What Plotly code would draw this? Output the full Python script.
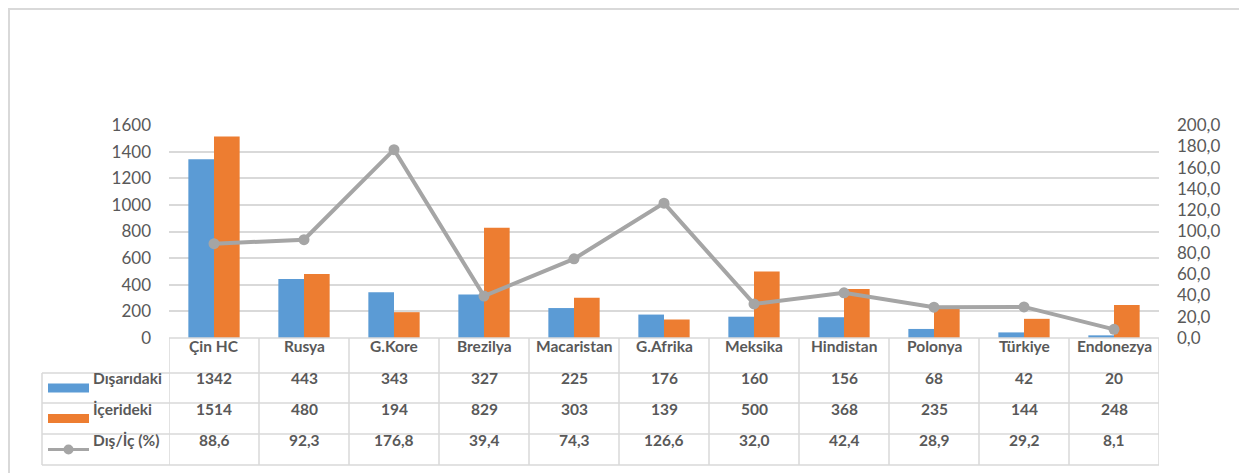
import plotly.graph_objects as go

categories = ["Çin HC", "Rusya", "G.Kore", "Brezilya", "Macaristan", "G.Afrika",
              "Meksika", "Hindistan", "Polonya", "Türkiye", "Endonezya"]
disaridaki = [1342, 443, 343, 327, 225, 176, 160, 156, 68, 42, 20]
icerideki = [1514, 480, 194, 829, 303, 139, 500, 368, 235, 144, 248]
oran = [88.6, 92.3, 176.8, 39.4, 74.3, 126.6, 32.0, 42.4, 28.9, 29.2, 8.1]
series_names = ["Dışarıdaki", "İçerideki", "Dış/İç (%)"]
left_ticks = [0, 200, 400, 600, 800, 1000, 1200, 1400, 1600]
right_ticks = [0, 20, 40, 60, 80, 100, 120, 140, 160, 180, 200]

BLUE = "#5B9BD5"
ORANGE = "#ED7D31"
GRAY = "#A5A5A5"
TXT = "#595959"
GRID = "#D9D9D9"
FONT = "Lato"

OFF = 8               # page body margin
W, H = 1247 - OFF, 473 - OFF
L, R = 169, 1159      # plot area pixel x (screen coordinates)
T, B = 125, 338       # plot area pixel y (screen coordinates)


def px(x):
    return (x - L) / (R - L)


def py(y):
    return (B - y) / (B - T)


fig = go.Figure()
fig.add_trace(go.Bar(x=categories, y=disaridaki, name=series_names[0],
                     marker=dict(color=BLUE, line=dict(width=0))))
fig.add_trace(go.Bar(x=categories, y=icerideki, name=series_names[1],
                     marker=dict(color=ORANGE, line=dict(width=0))))
fig.add_trace(go.Scatter(x=categories, y=oran, name=series_names[2], yaxis="y2",
                         mode="lines+markers",
                         line=dict(color=GRAY, width=4),
                         marker=dict(color=GRAY, size=11)))

shapes = []
annotations = []
n = len(categories)

# outer chart border
shapes.append(dict(type="rect", xref="paper", yref="paper",
                   x0=px(9), x1=px(1244), y0=py(480), y1=py(9),
                   line=dict(color=GRID, width=2), layer="below"))

# table geometry
row_y = [338, 373, 403, 434, 465]
tbl_left = 42
shapes.append(dict(type="line", xref="paper", yref="paper",
                   x0=px(L), x1=px(R), y0=py(row_y[0]), y1=py(row_y[0]),
                   line=dict(color=GRID, width=1.5)))
for yy in row_y[1:]:
    shapes.append(dict(type="line", xref="paper", yref="paper",
                       x0=px(tbl_left), x1=px(R), y0=py(yy), y1=py(yy),
                       line=dict(color=GRID, width=1.5)))
shapes.append(dict(type="line", xref="paper", yref="paper",
                   x0=px(tbl_left), x1=px(tbl_left), y0=py(row_y[1]), y1=py(row_y[4]),
                   line=dict(color=GRID, width=1.5)))
for i in range(n + 1):
    xx = i - 0.5
    shapes.append(dict(type="line", xref="x", yref="paper",
                       x0=xx, x1=xx, y0=py(row_y[0]), y1=py(row_y[4]),
                       line=dict(color=GRID, width=1.5)))

centers = [(row_y[k] + row_y[k + 1]) / 2 + 1 for k in range(4)]
TS = 15.5

for i, c in enumerate(categories):
    annotations.append(dict(x=i, y=py(centers[0]), xref="x", yref="paper",
                            text=f"<b>{c}</b>", showarrow=False,
                            font=dict(family=FONT, size=TS, color=TXT)))


def fmt(v):
    return f"{v:.1f}".replace(".", ",")


rows = [[str(v) for v in disaridaki], [str(v) for v in icerideki], [fmt(v) for v in oran]]
for k, vals in enumerate(rows):
    for i, v in enumerate(vals):
        annotations.append(dict(x=i, y=py(centers[k + 1]), xref="x", yref="paper",
                                text=f"<b>{v}</b>", showarrow=False,
                                font=dict(family=FONT, size=TS, color=TXT)))
    annotations.append(dict(x=px(91), y=py(centers[k + 1]), xref="paper", yref="paper",
                            xanchor="left", text=f"<b>{series_names[k]}</b>",
                            showarrow=False,
                            font=dict(family=FONT, size=TS, color=TXT)))

for k, col in enumerate([BLUE, ORANGE]):
    cy = centers[k + 1] - 1
    shapes.append(dict(type="rect", xref="paper", yref="paper",
                       x0=px(48), x1=px(89), y0=py(cy + 4.5), y1=py(cy - 4.5),
                       fillcolor=col, line=dict(width=0)))
cy = centers[3] - 1
shapes.append(dict(type="line", xref="paper", yref="paper",
                   x0=px(48), x1=px(89), y0=py(cy), y1=py(cy),
                   line=dict(color=GRAY, width=3)))
shapes.append(dict(type="circle", xref="paper", yref="paper",
                   x0=px(63.5), x1=px(73.5), y0=py(cy + 5), y1=py(cy - 5),
                   fillcolor=GRAY, line=dict(width=0)))

fig.update_layout(
    width=W, height=H,
    margin=dict(l=L - OFF, r=W - (R - OFF), t=T - OFF, b=H - (B - OFF), autoexpand=False),
    paper_bgcolor="white", plot_bgcolor="white",
    barmode="group", bargap=0.43, bargroupgap=0,
    showlegend=False,
    font=dict(family=FONT, color=TXT),
    xaxis=dict(showticklabels=False, showgrid=False, zeroline=False,
               showline=False, ticks="", range=[-0.5, n - 0.5]),
    yaxis=dict(range=[0, 1600], tickvals=left_ticks, showgrid=True,
               gridcolor=GRID, gridwidth=1.5, zeroline=False, showline=False,
               ticks="", tickfont=dict(family=FONT, size=17, color=TXT),
               ticklabelstandoff=17),
    yaxis2=dict(range=[0, 200], tickvals=right_ticks,
                ticktext=[fmt(v) for v in right_ticks],
                overlaying="y", side="right", showgrid=False, zeroline=False,
                showline=False, ticks="",
                tickfont=dict(family=FONT, size=17, color=TXT),
                ticklabelstandoff=17),
    shapes=shapes, annotations=annotations,
)

fig.write_html("out.html")
